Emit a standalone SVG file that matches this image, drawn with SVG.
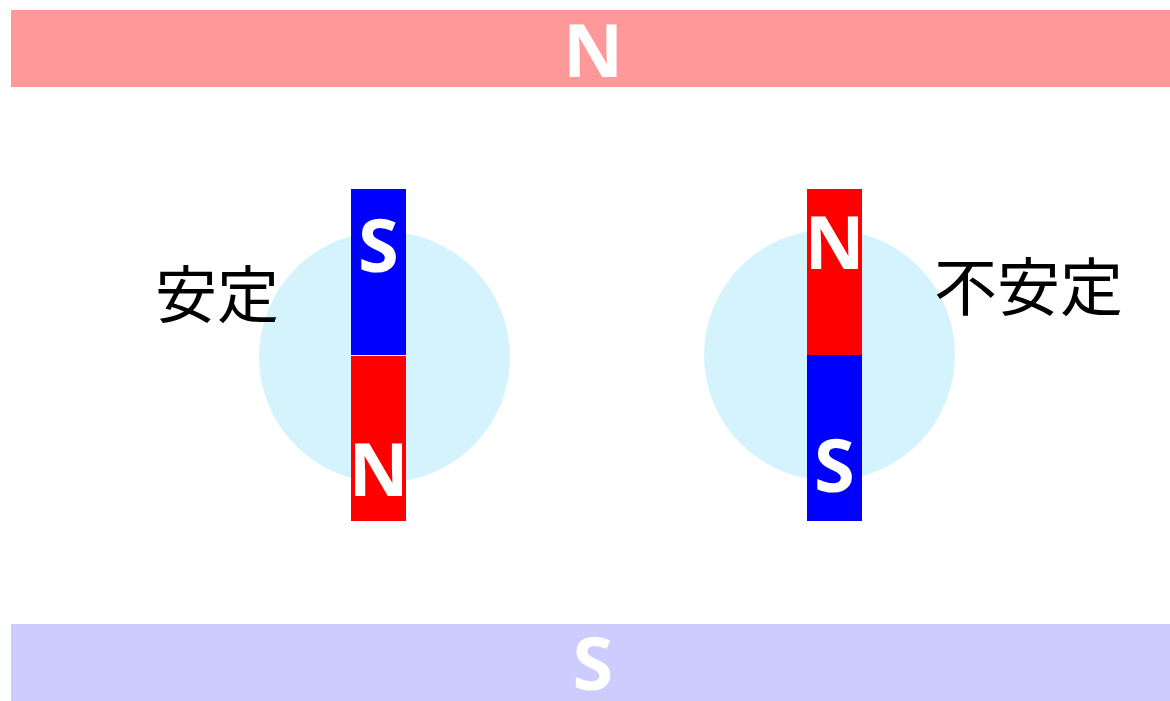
<svg xmlns="http://www.w3.org/2000/svg" width="1170" height="701" viewBox="0 0 1170 701">
<style>
.pole{font-family:"Open Sans","Noto Sans","DejaVu Sans",sans-serif;font-weight:bold;font-size:74px;fill:#fff;text-anchor:middle}
.lbl{font-family:"Noto Sans CJK JP","Noto Sans CJK SC",sans-serif;font-size:62px;fill:#000}
</style>
<rect width="1170" height="701" fill="#fff"/>
<g id="topN">
<rect x="11" y="10" width="1159" height="77" fill="#ff9999"/>
<text class="pole" x="593" y="77">N</text>
</g>
<g id="bottomS">
<rect x="11" y="624" width="1159" height="77" fill="#ccccff"/>
<text class="pole" x="593" y="690">S</text>
</g>
<g id="leftMagnet">
<circle cx="384.5" cy="357" r="125.5" fill="#d5f3fd"/>
<rect x="351" y="189" width="55" height="166" fill="#0000ff"/>
<rect x="351" y="356" width="55" height="165" fill="#ff0000"/>
<text class="pole" x="378.5" y="272">S</text>
<text class="pole" x="378.5" y="496">N</text>
</g>
<g id="rightMagnet">
<circle cx="829.5" cy="355" r="125.5" fill="#d5f3fd"/>
<rect x="807" y="189" width="55" height="166" fill="#ff0000"/>
<rect x="807" y="355" width="55" height="166" fill="#0000ff"/>
<text class="pole" x="834.5" y="269">N</text>
<text class="pole" x="834.5" y="492">S</text>
</g>
<g id="stable"><text class="lbl" x="155" y="318">安定</text></g>
<g id="unstable"><text class="lbl" x="934" y="310" style="font-size:63px">不安定</text></g>
</svg>
